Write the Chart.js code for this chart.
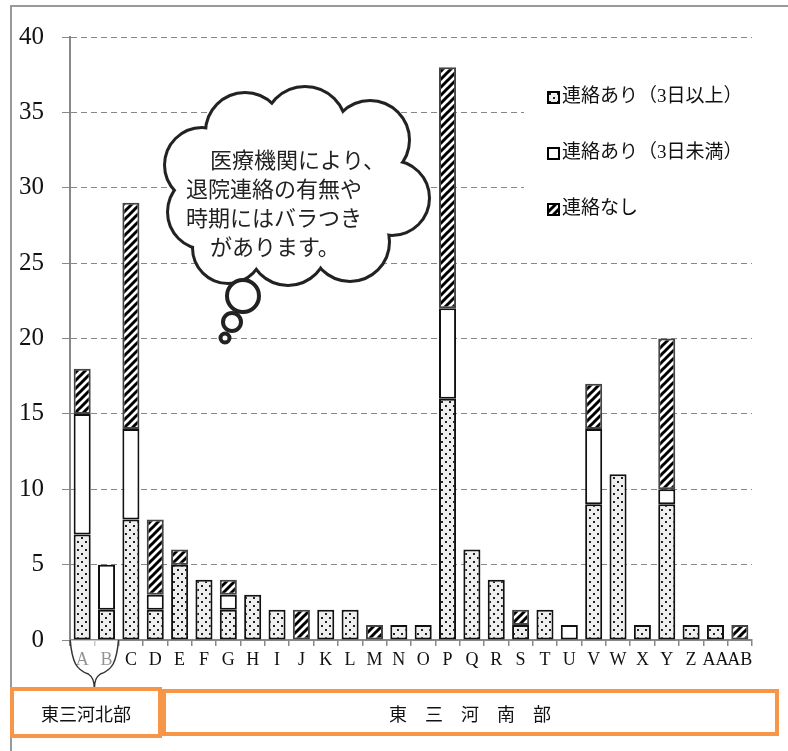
<!DOCTYPE html>
<html>
<head>
<meta charset="utf-8">
<script src="https://cdn.jsdelivr.net/npm/chart.js@4/dist/chart.umd.min.js"></script>
<style>
  html, body { margin: 0; padding: 0; background: #fff; }
  canvas { display: block; }
</style>
</head>
<body>
<canvas id="grafica" width="788" height="751"></canvas>
<script>
// datos
const categorias = ["A","B","C","D","E","F","G","H","I","J","K","L","M","N","O","P","Q","R","S","T","U","V","W","X","Y","Z","AA","AB"];
const series = ["連絡あり（3日以上）", "連絡あり（3日未満）", "連絡なし"];
const aviso3Mas   = [7,2,8,2,5,4,2,3,2,0,2,2,0,1,1,16,6,4,1,2,0,9,11,1,9,1,1,0];
const aviso3Menos = [8,3,6,1,0,0,1,0,0,0,0,0,0,0,0,6,0,0,0,0,1,5,0,0,1,0,0,0];
const sinAviso    = [3,0,15,5,1,0,1,0,0,2,0,0,1,0,0,16,0,0,1,0,0,3,0,0,10,0,0,1];
const regiones = ["東三河北部", "東　三　河　南　部"];
const nubeTexto = ["医療機関により、", "退院連絡の有無や", "時期にはバラつき", "があります。"];

// patrones
function patronPuntos() {
  const c = document.createElement("canvas");
  c.width = 8; c.height = 8;
  const g = c.getContext("2d");
  g.fillStyle = "#efefef";
  g.fillRect(0, 0, 8, 8);
  g.fillStyle = "#222";
  g.fillRect(1, 1, 2, 2);
  g.fillRect(5, 5, 2, 2);
  return g.createPattern(c, "repeat");
}
function patronRayas() {
  const c = document.createElement("canvas");
  c.width = 8; c.height = 8;
  const g = c.getContext("2d");
  g.fillStyle = "#fff";
  g.fillRect(0, 0, 8, 8);
  g.strokeStyle = "#000";
  g.lineWidth = 3;
  g.beginPath();
  g.moveTo(-2, 10); g.lineTo(10, -2);
  g.moveTo(-6, 6); g.lineTo(6, -6);
  g.moveTo(2, 14); g.lineTo(14, 2);
  g.stroke();
  return g.createPattern(c, "repeat");
}
const rellenos = [patronPuntos(), "#fff", patronRayas()];
const bordes = ["#111", "#111", "#444"];
const valores = [aviso3Mas, aviso3Menos, sinAviso];

const extras = {
  id: "extras",
  beforeDraw(chart) {
    const ctx = chart.ctx;
    ctx.save();
    ctx.fillStyle = "#fff";
    ctx.fillRect(0, 0, chart.width, chart.height);
    ctx.restore();
  },
  afterDraw(chart) {
    const ctx = chart.ctx;
    const x = chart.scales.x;
    const area = chart.chartArea;
    ctx.save();

    // marco exterior
    ctx.strokeStyle = "#999";
    ctx.lineWidth = 2;
    ctx.beginPath();
    ctx.moveTo(11, 751); ctx.lineTo(11, 6); ctx.lineTo(788, 6);
    ctx.stroke();

    // leyenda
    ctx.fillStyle = "#fff";
    ctx.fillRect(524, 72, 236, 155);
    ctx.font = '19px "Liberation Serif", "Noto Sans CJK JP"';
    ctx.textBaseline = "middle";
    series.forEach((s, i) => {
      const y = 97 + i * 56;
      ctx.fillStyle = rellenos[i];
      ctx.fillRect(548, y - 5, 11, 11);
      ctx.strokeStyle = "#000";
      ctx.lineWidth = 2;
      ctx.strokeRect(548, y - 5, 11, 11);
      ctx.fillStyle = "#111";
      ctx.fillText(s, 562, y);
    });

    // nube
    const burbujas = [[205,212,36],[202,165,36],[245,132,38],[305,128,40],[370,140,38],[392,198,36],[350,242,38],[288,246,38],[228,248,34]];
    ctx.strokeStyle = "#222";
    ctx.lineWidth = 6;
    ctx.fillStyle = "#fff";
    burbujas.forEach(([cx, cy, r]) => {
      ctx.beginPath(); ctx.arc(cx, cy, r, 0, Math.PI * 2); ctx.stroke();
    });
    burbujas.forEach(([cx, cy, r]) => {
      ctx.beginPath(); ctx.arc(cx, cy, r, 0, Math.PI * 2); ctx.fill();
    });
    ctx.beginPath(); ctx.ellipse(295, 188, 100, 62, 0, 0, Math.PI * 2); ctx.fill();
    ctx.lineWidth = 4;
    [[243,296,16],[232,322,9],[225,338,4.5]].forEach(([cx, cy, r]) => {
      ctx.beginPath(); ctx.arc(cx, cy, r, 0, Math.PI * 2); ctx.fill(); ctx.stroke();
    });
    ctx.fillStyle = "#222";
    ctx.font = '22px "Noto Sans CJK JP"';
    ctx.textAlign = "left";
    const xs = [210, 186, 186, 210];
    nubeTexto.forEach((t, i) => ctx.fillText(t, xs[i], 160 + i * 29));

    // llave de A y B
    const xa = x.getPixelForValue(0), xb = x.getPixelForValue(1);
    const l = xa - 12, r = xb + 12, m = (xa + xb) / 2, y0 = area.bottom;
    ctx.beginPath();
    ctx.moveTo(l, y0);
    ctx.bezierCurveTo(l + 2, y0 + 22, l + 6, y0 + 30, m - 6, y0 + 34);
    ctx.quadraticCurveTo(m, y0 + 38, m, y0 + 48);
    ctx.quadraticCurveTo(m, y0 + 38, m + 6, y0 + 34);
    ctx.bezierCurveTo(r - 6, y0 + 30, r - 2, y0 + 22, r, y0);
    ctx.fillStyle = "rgba(255,255,255,0.55)";
    ctx.fill();
    ctx.strokeStyle = "#333";
    ctx.lineWidth = 1.5;
    ctx.stroke();

    // cuadros de regiones
    ctx.strokeStyle = "#f79646";
    ctx.lineWidth = 4;
    ctx.strokeRect(12, 689, 148, 47);
    ctx.strokeRect(164, 691, 613, 43);
    ctx.fillStyle = "#111";
    ctx.font = '18px "Noto Sans CJK JP"';
    ctx.textAlign = "center";
    ctx.fillText(regiones[0], 86, 714);
    ctx.fillText(regiones[1], 470, 714);
    ctx.restore();
  }
};

new Chart(document.getElementById("grafica"), {
  type: "bar",
  data: {
    labels: categorias,
    datasets: series.map((s, i) => ({
      label: s,
      data: valores[i].map(v => v || null),
      backgroundColor: rellenos[i],
      borderColor: bordes[i],
      borderWidth: 2,
      borderSkipped: false,
      barPercentage: 0.7,
      categoryPercentage: 1
    }))
  },
  options: {
    responsive: false,
    animation: false,
    layout: { padding: { top: 37, right: 36, left: 12, bottom: 0 } },
    plugins: { legend: { display: false }, tooltip: { enabled: false } },
    scales: {
      x: {
        stacked: true,
        afterFit: s => { s.height = 111; },
        grid: { drawOnChartArea: false, tickLength: 6, color: "#888", lineWidth: 1.5 },
        border: { color: "#888", width: 2 },
        ticks: {
          autoSkip: false, maxRotation: 0, padding: 3, color: "#111",
          font: { family: '"Liberation Serif"', size: 18 }
        }
      },
      y: {
        stacked: true,
        min: 0, max: 40,
        afterFit: s => { s.width = 58; },
        grid: { color: "#888", lineWidth: 1, tickLength: 8 },
        border: { color: "#888", width: 2, dash: [6, 4] },
        ticks: {
          stepSize: 5, padding: 18, color: "#111",
          font: { family: '"Liberation Serif"', size: 25 }
        }
      }
    }
  },
  plugins: [extras]
});
</script>
</body>
</html>
